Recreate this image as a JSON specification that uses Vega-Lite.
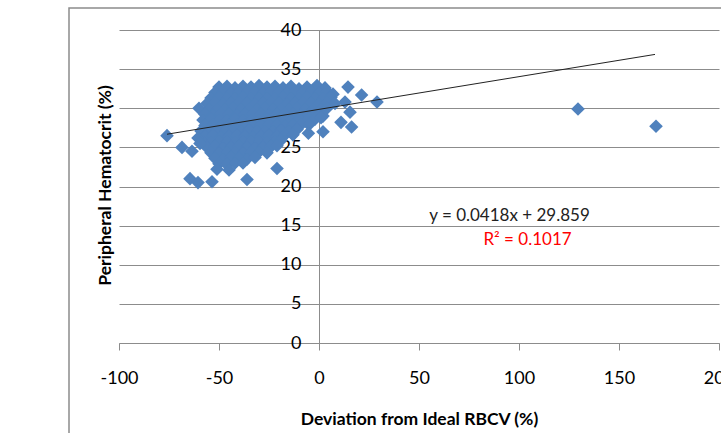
{
  "$schema": "https://vega.github.io/schema/vega-lite/v6.json",
  "width": 600,
  "height": 313,
  "autosize": {"type": "none"},
  "padding": {"left": 119, "top": 30, "right": 2, "bottom": 90},
  "background": "white",
  "config": {"view": {"stroke": null}, "font": "Lato"},
  "datasets": {
    "points": [
      {"deviation": -50, "hematocrit": 32.7}, {"deviation": -46, "hematocrit": 32.8}, {"deviation": -42, "hematocrit": 32.6}, {"deviation": -38, "hematocrit": 32.8}, {"deviation": -34, "hematocrit": 32.7}, {"deviation": -30, "hematocrit": 32.9}, {"deviation": -26, "hematocrit": 32.7}, {"deviation": -22, "hematocrit": 32.8}, {"deviation": -18, "hematocrit": 32.6}, {"deviation": -14, "hematocrit": 32.8}, {"deviation": -10, "hematocrit": 32.5}, {"deviation": -6, "hematocrit": 32.7}, {"deviation": -1, "hematocrit": 32.9}, {"deviation": 3, "hematocrit": 32.6},
      {"deviation": -52, "hematocrit": 32.0}, {"deviation": -48, "hematocrit": 32.1}, {"deviation": -44, "hematocrit": 31.9}, {"deviation": -40, "hematocrit": 32.0}, {"deviation": -36, "hematocrit": 32.2}, {"deviation": -32, "hematocrit": 32.0}, {"deviation": -28, "hematocrit": 31.9}, {"deviation": -24, "hematocrit": 32.1}, {"deviation": -20, "hematocrit": 32.0}, {"deviation": -16, "hematocrit": 31.9}, {"deviation": -12, "hematocrit": 32.1}, {"deviation": -8, "hematocrit": 32.0}, {"deviation": -4, "hematocrit": 32.2}, {"deviation": 0, "hematocrit": 31.9}, {"deviation": 4, "hematocrit": 32.1}, {"deviation": 7, "hematocrit": 31.8},
      {"deviation": -54, "hematocrit": 31.3}, {"deviation": -50, "hematocrit": 31.4}, {"deviation": -46, "hematocrit": 31.2}, {"deviation": -42, "hematocrit": 31.3}, {"deviation": -38, "hematocrit": 31.4}, {"deviation": -34, "hematocrit": 31.2}, {"deviation": -30, "hematocrit": 31.3}, {"deviation": -26, "hematocrit": 31.3}, {"deviation": -22, "hematocrit": 31.2}, {"deviation": -18, "hematocrit": 31.4}, {"deviation": -14, "hematocrit": 31.3}, {"deviation": -10, "hematocrit": 31.2}, {"deviation": -6, "hematocrit": 31.4}, {"deviation": -2, "hematocrit": 31.3}, {"deviation": 2, "hematocrit": 31.2}, {"deviation": 6, "hematocrit": 31.4},
      {"deviation": -56, "hematocrit": 30.6}, {"deviation": -52, "hematocrit": 30.7}, {"deviation": -48, "hematocrit": 30.5}, {"deviation": -44, "hematocrit": 30.6}, {"deviation": -40, "hematocrit": 30.7}, {"deviation": -36, "hematocrit": 30.6}, {"deviation": -32, "hematocrit": 30.5}, {"deviation": -28, "hematocrit": 30.6}, {"deviation": -24, "hematocrit": 30.7}, {"deviation": -20, "hematocrit": 30.6}, {"deviation": -16, "hematocrit": 30.5}, {"deviation": -12, "hematocrit": 30.6}, {"deviation": -8, "hematocrit": 30.7}, {"deviation": -4, "hematocrit": 30.6}, {"deviation": 0, "hematocrit": 30.5}, {"deviation": 4, "hematocrit": 30.7}, {"deviation": 8, "hematocrit": 30.6},
      {"deviation": -60, "hematocrit": 30.0}, {"deviation": -55, "hematocrit": 29.9}, {"deviation": -51, "hematocrit": 29.8}, {"deviation": -47, "hematocrit": 29.9}, {"deviation": -43, "hematocrit": 30.0}, {"deviation": -39, "hematocrit": 29.9}, {"deviation": -35, "hematocrit": 29.8}, {"deviation": -31, "hematocrit": 29.9}, {"deviation": -27, "hematocrit": 30.0}, {"deviation": -23, "hematocrit": 29.9}, {"deviation": -19, "hematocrit": 29.8}, {"deviation": -15, "hematocrit": 29.9}, {"deviation": -11, "hematocrit": 30.0}, {"deviation": -7, "hematocrit": 29.9}, {"deviation": -3, "hematocrit": 29.8}, {"deviation": 1, "hematocrit": 29.9}, {"deviation": 4, "hematocrit": 30.0},
      {"deviation": -57, "hematocrit": 29.2}, {"deviation": -53, "hematocrit": 29.1}, {"deviation": -49, "hematocrit": 29.3}, {"deviation": -45, "hematocrit": 29.2}, {"deviation": -41, "hematocrit": 29.1}, {"deviation": -37, "hematocrit": 29.2}, {"deviation": -33, "hematocrit": 29.3}, {"deviation": -29, "hematocrit": 29.2}, {"deviation": -25, "hematocrit": 29.1}, {"deviation": -21, "hematocrit": 29.2}, {"deviation": -17, "hematocrit": 29.3}, {"deviation": -13, "hematocrit": 29.2}, {"deviation": -9, "hematocrit": 29.1}, {"deviation": -5, "hematocrit": 29.2}, {"deviation": -1, "hematocrit": 29.3}, {"deviation": 2, "hematocrit": 29.0},
      {"deviation": -58, "hematocrit": 28.5}, {"deviation": -54, "hematocrit": 28.6}, {"deviation": -50, "hematocrit": 28.4}, {"deviation": -46, "hematocrit": 28.5}, {"deviation": -42, "hematocrit": 28.6}, {"deviation": -38, "hematocrit": 28.5}, {"deviation": -34, "hematocrit": 28.4}, {"deviation": -30, "hematocrit": 28.5}, {"deviation": -26, "hematocrit": 28.6}, {"deviation": -22, "hematocrit": 28.5}, {"deviation": -18, "hematocrit": 28.4}, {"deviation": -14, "hematocrit": 28.5}, {"deviation": -10, "hematocrit": 28.6}, {"deviation": -6, "hematocrit": 28.4}, {"deviation": -2, "hematocrit": 28.6}, {"deviation": 1, "hematocrit": 28.8},
      {"deviation": -57, "hematocrit": 27.8}, {"deviation": -53, "hematocrit": 27.9}, {"deviation": -49, "hematocrit": 27.7}, {"deviation": -45, "hematocrit": 27.8}, {"deviation": -41, "hematocrit": 27.9}, {"deviation": -37, "hematocrit": 27.8}, {"deviation": -33, "hematocrit": 27.7}, {"deviation": -29, "hematocrit": 27.8}, {"deviation": -25, "hematocrit": 27.9}, {"deviation": -21, "hematocrit": 27.8}, {"deviation": -17, "hematocrit": 27.7}, {"deviation": -13, "hematocrit": 27.8}, {"deviation": -9, "hematocrit": 27.9}, {"deviation": -5, "hematocrit": 27.9},
      {"deviation": -59, "hematocrit": 27.1}, {"deviation": -55, "hematocrit": 27.0}, {"deviation": -51, "hematocrit": 27.2}, {"deviation": -47, "hematocrit": 27.1}, {"deviation": -43, "hematocrit": 27.0}, {"deviation": -39, "hematocrit": 27.1}, {"deviation": -35, "hematocrit": 27.2}, {"deviation": -31, "hematocrit": 27.1}, {"deviation": -27, "hematocrit": 27.0}, {"deviation": -23, "hematocrit": 27.1}, {"deviation": -19, "hematocrit": 27.2}, {"deviation": -15, "hematocrit": 27.1}, {"deviation": -11, "hematocrit": 27.3},
      {"deviation": -57, "hematocrit": 26.4}, {"deviation": -53, "hematocrit": 26.5}, {"deviation": -49, "hematocrit": 26.3}, {"deviation": -45, "hematocrit": 26.4}, {"deviation": -41, "hematocrit": 26.5}, {"deviation": -37, "hematocrit": 26.4}, {"deviation": -33, "hematocrit": 26.3}, {"deviation": -29, "hematocrit": 26.4}, {"deviation": -25, "hematocrit": 26.5}, {"deviation": -21, "hematocrit": 26.4}, {"deviation": -17, "hematocrit": 26.6},
      {"deviation": -58, "hematocrit": 25.7}, {"deviation": -54, "hematocrit": 25.6}, {"deviation": -50, "hematocrit": 25.8}, {"deviation": -46, "hematocrit": 25.7}, {"deviation": -42, "hematocrit": 25.6}, {"deviation": -38, "hematocrit": 25.7}, {"deviation": -34, "hematocrit": 25.8}, {"deviation": -30, "hematocrit": 25.7}, {"deviation": -26, "hematocrit": 25.6}, {"deviation": -22, "hematocrit": 25.7}, {"deviation": -19, "hematocrit": 25.9},
      {"deviation": -56, "hematocrit": 25.0}, {"deviation": -52, "hematocrit": 25.1}, {"deviation": -48, "hematocrit": 24.9}, {"deviation": -44, "hematocrit": 25.0}, {"deviation": -40, "hematocrit": 25.1}, {"deviation": -36, "hematocrit": 25.0}, {"deviation": -32, "hematocrit": 24.9}, {"deviation": -28, "hematocrit": 25.0}, {"deviation": -24, "hematocrit": 25.1}, {"deviation": -21, "hematocrit": 25.2},
      {"deviation": -54, "hematocrit": 24.3}, {"deviation": -50, "hematocrit": 24.2}, {"deviation": -46, "hematocrit": 24.4}, {"deviation": -42, "hematocrit": 24.3}, {"deviation": -38, "hematocrit": 24.2}, {"deviation": -34, "hematocrit": 24.3}, {"deviation": -30, "hematocrit": 24.4}, {"deviation": -26, "hematocrit": 24.3},
      {"deviation": -52, "hematocrit": 23.6}, {"deviation": -48, "hematocrit": 23.5}, {"deviation": -44, "hematocrit": 23.7}, {"deviation": -40, "hematocrit": 23.6}, {"deviation": -36, "hematocrit": 23.5}, {"deviation": -32, "hematocrit": 23.7},
      {"deviation": -50, "hematocrit": 22.9}, {"deviation": -46, "hematocrit": 22.8}, {"deviation": -42, "hematocrit": 23.0}, {"deviation": -38, "hematocrit": 23.0},
      {"deviation": -51, "hematocrit": 22.2}, {"deviation": -45, "hematocrit": 22.1},
      {"deviation": -76, "hematocrit": 26.5}, {"deviation": -68.5, "hematocrit": 25.0}, {"deviation": -63.5, "hematocrit": 24.5}, {"deviation": -60.5, "hematocrit": 26.2}, {"deviation": -59.5, "hematocrit": 25.5},
      {"deviation": -64.5, "hematocrit": 21.0}, {"deviation": -60.5, "hematocrit": 20.5}, {"deviation": -53.5, "hematocrit": 20.6}, {"deviation": -36, "hematocrit": 20.9}, {"deviation": -21, "hematocrit": 22.3},
      {"deviation": -13, "hematocrit": 26.6}, {"deviation": -5.3, "hematocrit": 26.8}, {"deviation": 2, "hematocrit": 27.0}, {"deviation": 11, "hematocrit": 28.2}, {"deviation": 16.3, "hematocrit": 27.6},
      {"deviation": 15.5, "hematocrit": 29.5}, {"deviation": 13, "hematocrit": 30.8}, {"deviation": 14.5, "hematocrit": 32.7}, {"deviation": 21.3, "hematocrit": 31.7}, {"deviation": 29, "hematocrit": 30.8},
      {"deviation": 129.5, "hematocrit": 29.9}, {"deviation": 168.5, "hematocrit": 27.7}
    ]
  },
  "layer": [
    {
      "data": {"name": "points"},
      "mark": {"type": "point", "shape": "diamond", "filled": true, "size": 185, "color": "#4F81BD", "opacity": 1},
      "encoding": {
        "x": {
          "field": "deviation",
          "type": "quantitative",
          "scale": {"domain": [-100, 200], "nice": false, "zero": false},
          "axis": {
            "values": [-100, -50, 0, 50, 100, 150, 200],
            "tickCount": 20,
            "labelExpr": "datum.value + ''",
            "title": "Deviation from Ideal RBCV (%)",
            "grid": false,
            "domainColor": "#8c8c8c",
            "tickColor": "#8c8c8c",
            "tickSize": 7,
            "labelFontSize": 18,
            "labelColor": "#000",
            "labelPadding": 19,
            "labelFlush": false,
            "labelOverlap": false,
            "labelBound": false,
            "titleFontSize": 17.5,
            "titleFontWeight": "bold",
            "titleColor": "#000",
            "titleBaseline": "alphabetic",
            "titleY": 81
          }
        },
        "y": {
          "field": "hematocrit",
          "type": "quantitative",
          "scale": {"domain": [0, 40], "nice": false, "zero": false},
          "axis": {
            "values": [0, 5, 10, 15, 20, 25, 30, 35, 40],
            "tickCount": 20,
            "title": "Peripheral Hematocrit (%)",
            "grid": true,
            "gridColor": "#8c8c8c",
            "gridOpacity": 1,
            "domainColor": "#8c8c8c",
            "tickColor": "#8c8c8c",
            "tickSize": 7,
            "offset": -200,
            "labelFontSize": 18,
            "labelColor": "#000",
            "labelPadding": 11,
            "labelOverlap": false,
            "labelBound": false,
            "labelFlush": false,
            "titleFontSize": 17.5,
            "titleFontWeight": "bold",
            "titleColor": "#000",
            "titleX": -214,
            "titleY": 155,
            "titleBaseline": "middle",
            "titleAngle": -90
          }
        }
      }
    },
    {
      "data": {"values": [{}]},
      "mark": {"type": "rect", "fill": "white", "fillOpacity": 0, "stroke": "#8c8c8c", "strokeWidth": 1.5},
      "encoding": {
        "x": {"datum": -125},
        "x2": {"datum": 240},
        "y": {"datum": 42.8},
        "y2": {"datum": -15}
      }
    },
    {
      "data": {"values": [{}]},
      "mark": {"type": "rule", "color": "#222", "strokeWidth": 1},
      "encoding": {
        "x": {"datum": -76},
        "y": {"datum": 26.68},
        "x2": {"datum": 168},
        "y2": {"datum": 36.88}
      }
    },
    {
      "data": {"values": [{}]},
      "mark": {"type": "text", "fontSize": 17, "baseline": "alphabetic", "align": "center", "color": "#222"},
      "encoding": {
        "x": {"datum": 95.25},
        "y": {"datum": 15.6},
        "text": {"value": "y = 0.0418x + 29.859"}
      }
    },
    {
      "data": {"values": [{}]},
      "mark": {"type": "text", "fontSize": 17, "baseline": "alphabetic", "align": "center", "color": "#FF0000"},
      "encoding": {
        "x": {"datum": 104.25},
        "y": {"datum": 12.5},
        "text": {"value": "R² = 0.1017"}
      }
    }
  ]
}
